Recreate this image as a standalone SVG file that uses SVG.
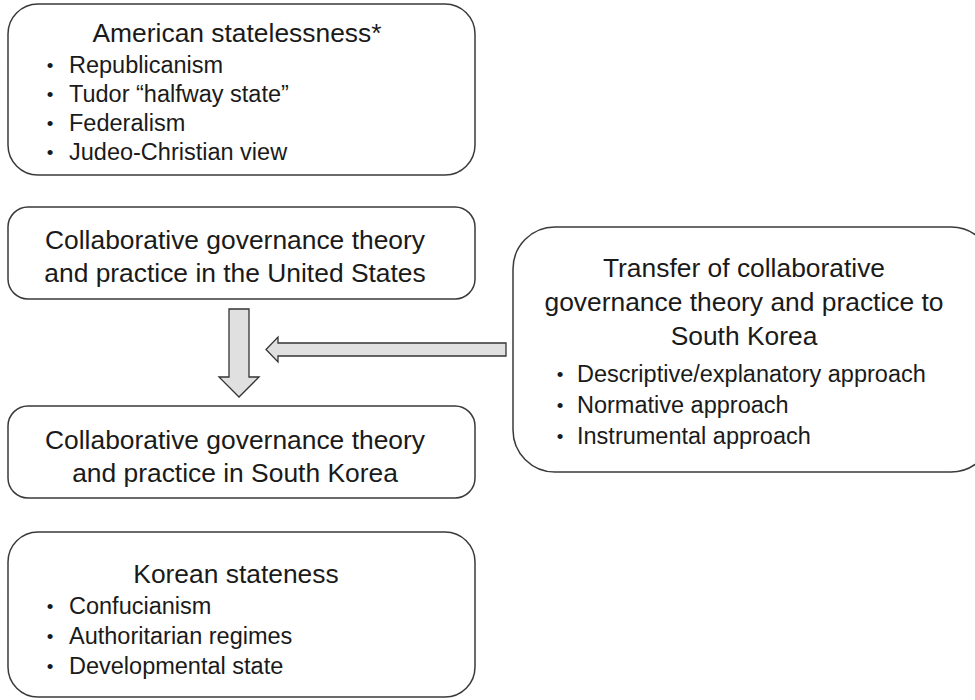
<svg xmlns="http://www.w3.org/2000/svg" width="975" height="700" viewBox="0 0 975 700">
<style>
.box{fill:#fff;stroke:#3a3a3a;stroke-width:1.5}
.h{font-family:"Liberation Sans",Arial,sans-serif;font-size:26.4px;fill:#1a1a1a;text-anchor:middle}
.t{font-family:"Liberation Sans",Arial,sans-serif;font-size:23.5px;fill:#1a1a1a}
.b{font-family:"Liberation Sans",Arial,sans-serif;font-size:19px;fill:#1a1a1a;text-anchor:middle}
.arr{fill:#e0e0e0;stroke:#333;stroke-width:1.3;stroke-linejoin:miter}
</style>
<rect width="975" height="700" fill="#fff"/>
<g id="american">
<rect class="box" x="8" y="4" width="467" height="171" rx="30"/>
<text class="h" x="237" y="42">American statelessness*</text>
<text class="b" x="50" y="72">•</text><text class="t" x="69" y="73">Republicanism</text>
<text class="b" x="50" y="101">•</text><text class="t" x="69" y="102">Tudor “halfway state”</text>
<text class="b" x="50" y="130">•</text><text class="t" x="69" y="131">Federalism</text>
<text class="b" x="50" y="159">•</text><text class="t" x="69" y="160">Judeo-Christian view</text>
</g>
<g id="us">
<rect class="box" x="8" y="207" width="467" height="92" rx="20"/>
<text class="h" x="235" y="249">Collaborative governance theory</text>
<text class="h" x="235" y="282">and practice in the United States</text>
</g>
<g id="korea-practice">
<rect class="box" x="8" y="406" width="467" height="92" rx="20"/>
<text class="h" x="235" y="449">Collaborative governance theory</text>
<text class="h" x="235" y="482">and practice in South Korea</text>
</g>
<g id="korean-stateness">
<rect class="box" x="8" y="532" width="467" height="165" rx="30"/>
<text class="h" x="236" y="583">Korean stateness</text>
<text class="b" x="50" y="613">•</text><text class="t" x="69" y="614">Confucianism</text>
<text class="b" x="50" y="643">•</text><text class="t" x="69" y="644">Authoritarian regimes</text>
<text class="b" x="50" y="673">•</text><text class="t" x="69" y="674">Developmental state</text>
</g>
<g id="transfer">
<rect class="box" x="513" y="227" width="480" height="245" rx="42"/>
<text class="h" x="744" y="277">Transfer of collaborative</text>
<text class="h" x="744" y="311">governance theory and practice to</text>
<text class="h" x="744" y="345">South Korea</text>
<text class="b" x="560" y="381">•</text><text class="t" x="577" y="382">Descriptive/explanatory approach</text>
<text class="b" x="560" y="412">•</text><text class="t" x="577" y="413">Normative approach</text>
<text class="b" x="560" y="443">•</text><text class="t" x="577" y="444">Instrumental approach</text>
</g>
<g id="connectors">
<path class="arr" d="M229,309 H249 V377 H259 L239,397 L219,377 H229 Z"/>
<path class="arr" d="M506,343 V356 H278 V362 L266,349.5 L278,337 V343 Z"/>
</g>
</svg>
